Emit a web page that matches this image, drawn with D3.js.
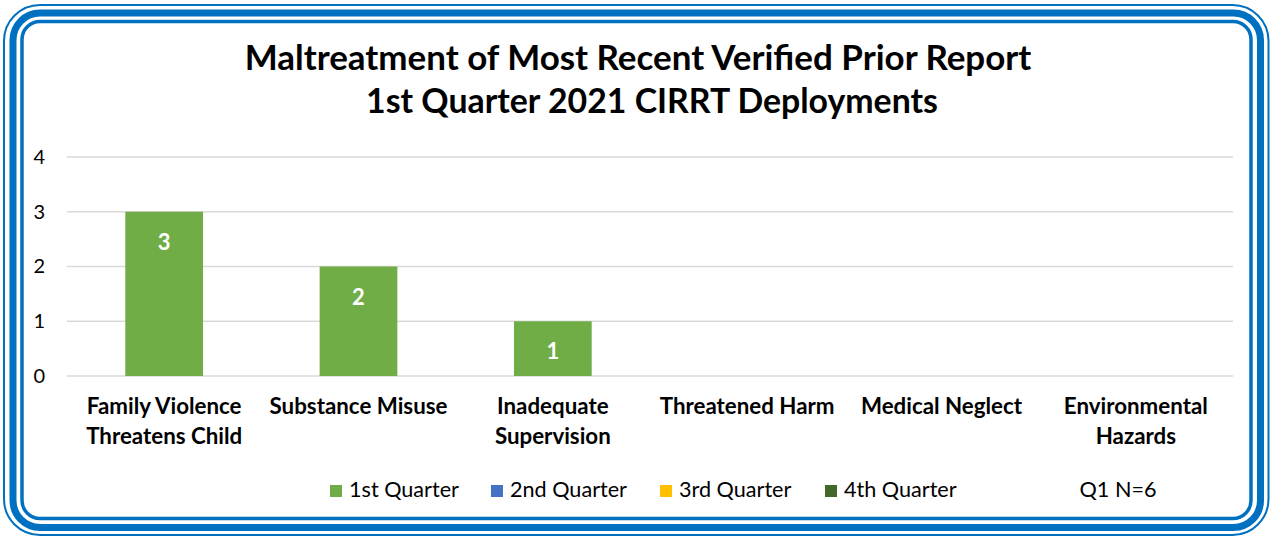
<!DOCTYPE html>
<html>
<head>
<meta charset="utf-8">
<script src="https://cdn.jsdelivr.net/npm/d3@7"></script>
<style>
  body { margin: 0; background: #fff; }
  svg { display: block; font-family: Lato, "Open Sans", sans-serif; }
</style>
</head>
<body>
<script>
// chart data
var titleLines = ["Maltreatment of Most Recent Verified Prior Report", "1st Quarter 2021 CIRRT Deployments"];
var categories = [["Family Violence", "Threatens Child"], ["Substance Misuse"], ["Inadequate", "Supervision"], ["Threatened Harm"], ["Medical Neglect"], ["Environmental", "Hazards"]];
var q1Values = [3, 2, 1, 0, 0, 0];
var seriesNames = ["1st Quarter", "2nd Quarter", "3rd Quarter", "4th Quarter"];
var seriesColors = ["#70AD47", "#4472C4", "#FFC000", "#43682B"];
var yTicks = [0, 1, 2, 3, 4];
var noteText = "Q1 N=6";

var svgWidth = 1271, svgHeight = 536;
var svg = d3.select("body").append("svg")
    .attr("width", svgWidth)
    .attr("height", svgHeight);

// scale a text's font size so its width matches the reference
function fitWidth(sel, target) {
    var w = sel.node().getComputedTextLength();
    var fs = parseFloat(sel.attr("font-size"));
    var nfs = fs * target / w;
    sel.attr("font-size", nfs);
    return nfs;
}

// triple blue frame
var blue = "#0070C0";
svg.append("rect").attr("x", 4).attr("y", 5).attr("width", 1264.5).attr("height", 530)
    .attr("rx", 36).attr("fill", "none").attr("stroke", blue).attr("stroke-width", 2);
svg.append("rect").attr("x", 13).attr("y", 13).attr("width", 1247.5).attr("height", 514.5)
    .attr("rx", 27).attr("fill", "none").attr("stroke", blue).attr("stroke-width", 7);
svg.append("rect").attr("x", 22).attr("y", 21.5).attr("width", 1229).attr("height", 497)
    .attr("rx", 18).attr("fill", "none").attr("stroke", blue).attr("stroke-width", 3.5);

// title
var t1 = svg.append("text").attr("x", 638).attr("y", 70).attr("text-anchor", "middle")
    .attr("font-weight", "bold").attr("font-size", 30).attr("fill", "#000").text(titleLines[0]);
fitWidth(t1, 787);
var t2 = svg.append("text").attr("x", 652).attr("y", 113).attr("text-anchor", "middle")
    .attr("font-weight", "bold").attr("font-size", 30).attr("fill", "#000").text(titleLines[1]);
fitWidth(t2, 572);

// scales
var margin = { left: 67, right: 1233, top: 157, bottom: 376 };
var x = d3.scaleBand()
    .domain(d3.range(categories.length))
    .range([margin.left, margin.right])
    .paddingInner(0.6)
    .paddingOuter(0.3);
var y = d3.scaleLinear().domain([0, 4]).range([margin.bottom, margin.top]);

// gridlines
svg.append("g").selectAll("line").data(yTicks).enter().append("line")
    .attr("x1", margin.left).attr("x2", margin.right)
    .attr("y1", d => y(d)).attr("y2", d => y(d))
    .attr("stroke", "#d9d9d9").attr("stroke-width", 1.5);

// y axis
var yAxis = svg.append("g")
    .attr("transform", "translate(" + margin.left + ",0)")
    .call(d3.axisLeft(y).tickValues(yTicks).tickFormat(d3.format("d")).tickSize(0).tickPadding(22));
yAxis.select(".domain").remove();
yAxis.attr("font-size", null).attr("font-family", null);
yAxis.selectAll("text").attr("font-size", 20).attr("fill", "#000");

// bars
var bars = q1Values.map((v, i) => ({ i: i, v: v })).filter(d => d.v > 0);
svg.append("g").selectAll("rect").data(bars).enter().append("rect")
    .attr("x", d => x(d.i))
    .attr("y", d => y(d.v))
    .attr("width", x.bandwidth())
    .attr("height", d => y(0) - y(d.v))
    .attr("fill", seriesColors[0]);

svg.append("g").selectAll("text").data(bars).enter().append("text")
    .attr("x", d => x(d.i) + x.bandwidth() / 2)
    .attr("y", d => y(d.v) + 38)
    .attr("text-anchor", "middle")
    .attr("font-weight", "bold").attr("font-size", 22).attr("fill", "#fff")
    .text(d => d.v);

// category labels
var catSize = 19;
var probe = svg.append("text").attr("font-weight", "bold").attr("font-size", 19).text("Substance Misuse");
catSize = fitWidth(probe, 178);
probe.remove();
var catG = svg.append("g");
categories.forEach(function (lines, i) {
    var cx = x(i) + x.bandwidth() / 2;
    var t = catG.append("text").attr("text-anchor", "middle")
        .attr("font-weight", "bold").attr("font-size", catSize).attr("fill", "#000");
    lines.forEach(function (l, j) {
        t.append("tspan").attr("x", cx).attr("y", 414 + j * 30).text(l);
    });
});

// legend
var legendX = [330, 491, 660, 825];
var lg = svg.append("g");
var probe2 = svg.append("text").attr("font-size", 18).text(seriesNames[0]);
var legSize = fitWidth(probe2, 110);
probe2.remove();
seriesNames.forEach(function (name, i) {
    lg.append("rect").attr("x", legendX[i]).attr("y", 485).attr("width", 12).attr("height", 12)
        .attr("fill", seriesColors[i]);
    lg.append("text").attr("x", legendX[i] + 19).attr("y", 497)
        .attr("font-size", legSize).attr("fill", "#000").text(name);
});
svg.append("text").attr("x", 1118).attr("y", 497).attr("text-anchor", "middle")
    .attr("font-size", legSize).attr("fill", "#000").text(noteText);
</script>
</body>
</html>
